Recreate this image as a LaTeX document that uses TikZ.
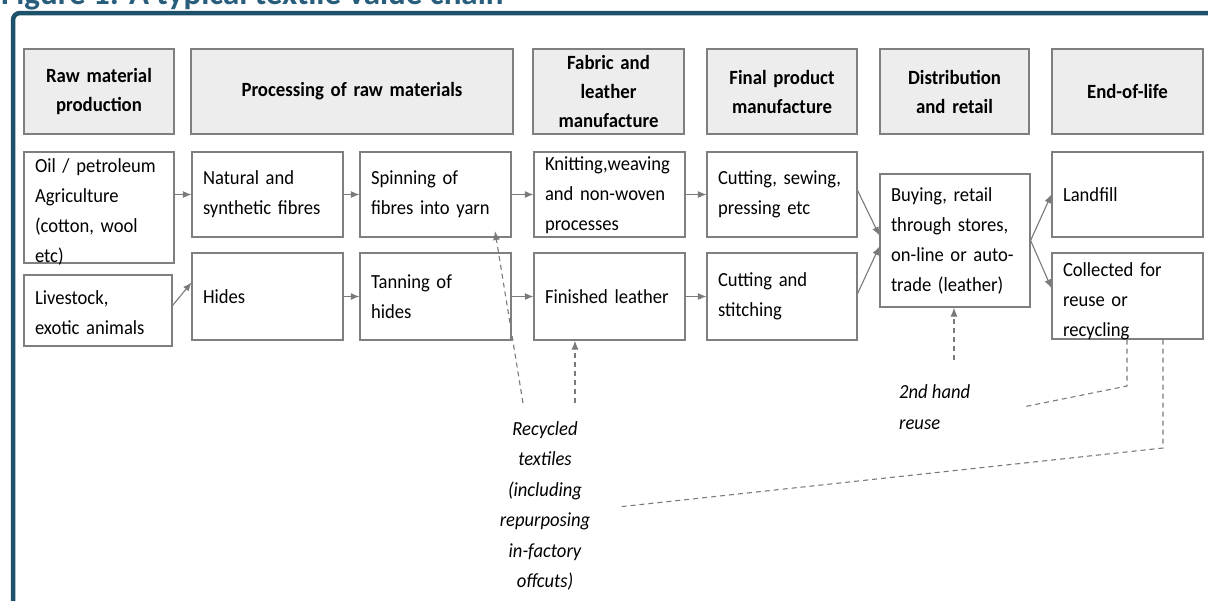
\documentclass[tikz,border=0pt]{standalone}
\usepackage{fontspec}
\setmainfont[FakeStretch=0.93]{Carlito}
\newfontfamily\ttlfont{Carlito}
\usetikzlibrary{arrows.meta,calc}
\definecolor{framec}{HTML}{1D5069}
\definecolor{ttlc}{HTML}{285E7C}
\definecolor{bordc}{HTML}{7F7F7F}
\definecolor{hdrfill}{HTML}{EDEDED}
\definecolor{connc}{HTML}{7A7A7A}
% style, name, x1, y1, x2, y2, text shift down, text
\newcommand\mkbox[8]{%
 \pgfmathsetmacro\mybw{#5-#3}%
 \pgfmathsetmacro\mybh{#6-#4}%
 \pgfmathsetmacro\mytw{#5-#3-22}%
 \pgfmathsetmacro\mycx{(#3+#5)/2}%
 \pgfmathsetmacro\mycy{(#4+#6)/2}%
 \node[#1, minimum width=\mybw pt, minimum height=\mybh pt] (#2) at (\mycx,\mycy) {};
 \node[#1 text, text width=\mytw pt, yshift=-#7pt] (#2t) at (#2.center) {#8};}
\begin{document}
\begin{tikzpicture}[x=1pt,y=-1pt,
  hdr/.style={draw=bordc, line width=1.2pt, fill=hdrfill, inner sep=0pt},
  hdr text/.style={inner sep=0pt, align=center, font=\bfseries\fontsize{20.2}{29}\selectfont},
  body/.style={draw=bordc, line width=1.2pt, fill=white, inner sep=0pt},
  body text/.style={inner sep=0pt, align=left, font=\fontsize{20}{30}\selectfont},
  lbl/.style={inner sep=0pt, font=\itshape\fontsize{20}{30.5}\selectfont},
  arr/.style={draw=connc, line width=1.1pt, -{Latex[length=8.5pt,width=7pt]}},
  dsh/.style={draw=connc, line width=1.1pt, dash pattern=on 5pt off 4pt},
  dsharr/.style={dsh, -{Latex[length=9pt,width=7pt]}}]
\useasboundingbox (0,0) rectangle (1208,600);
\clip (0,0) rectangle (1208,600);
\fill[white] (0,0) rectangle (1208,600);
% title and frame
\node[anchor=base west, inner sep=0pt, text=ttlc, font=\ttlfont\bfseries\fontsize{33}{33}\selectfont] (title) at (1,4.5) {Figure 1: A typical textile value chain};
\draw[framec, line width=4.5pt, rounded corners=7pt] (13,640) -- (13,13) -- (1240,13);
% headers
\mkbox{hdr}{h1}{24}{49}{174}{134}{0}{Raw material\\production}
\mkbox{hdr}{h2}{191}{49}{513}{134}{0}{Processing of raw materials}
\mkbox{hdr}{h3}{533}{49}{684}{134}{0}{Fabric and\\leather\\manufacture}
\mkbox{hdr}{h4}{707}{49}{857}{134}{0}{Final product\\manufacture}
\mkbox{hdr}{h5}{880}{49}{1029}{134}{0}{Distribution\\and retail}
\mkbox{hdr}{h6}{1052}{49}{1203}{134}{0}{End-of-life}
% body boxes
\mkbox{body}{a1}{24}{152}{174}{263}{4}{Oil / petroleum\\Agriculture\\(cotton, wool\\etc)}
\mkbox{body}{a2}{24}{275}{172}{346}{2}{Livestock,\\exotic animals}
\mkbox{body}{b1}{192}{152}{343}{237}{0}{Natural and\\synthetic fibres}
\mkbox{body}{b2}{192}{253}{343}{340}{0}{Hides}
\mkbox{body}{c1}{360}{152}{511}{237}{0}{Spinning of\\fibres into yarn}
\mkbox{body}{c2}{360}{253}{511}{340}{0}{Tanning of\\hides}
\mkbox{body}{d1}{534}{152}{685}{237}{1}{Knitting,weaving\\and non-woven\\processes}
\mkbox{body}{d2}{534}{253}{685}{340}{0}{Finished leather}
\mkbox{body}{e1}{707}{152}{857}{237}{0}{Cutting, sewing,\\pressing etc}
\mkbox{body}{e2}{707}{253}{857}{340}{0}{Cutting and\\stitching}
\mkbox{body}{f}{880}{174}{1030}{307}{0}{Buying, retail\\through stores,\\on-line or auto-\\trade (leather)}
\mkbox{body}{g1}{1052}{152}{1203}{237}{0}{Landfill}
\mkbox{body}{g2}{1052}{253}{1203}{339}{5}{Collected for\\reuse or\\recycling}
% labels
\node[lbl, align=center] (rt) at (545,506) {Recycled\\textiles\\(including\\repurposing\\in-factory\\offcuts)};
\node[lbl, align=left, anchor=west] (sh) at (899,407) {2nd hand\\reuse};
% solid arrows
\draw[arr] (a1.east |- b1.west) -- (b1.west);
\draw[arr] ([yshift=5pt]a2.east) -- ([yshift=14pt]b2.west);
\draw[arr] (b1.east) -- (c1.west);
\draw[arr] (b2.east) -- (c2.west);
\draw[arr] (c1.east) -- (d1.west);
\draw[arr] (c2.east) -- (d2.west);
\draw[arr] (d1.east) -- (e1.west);
\draw[arr] (d2.east) -- (e2.west);
\draw[arr] ([yshift=4pt]e1.east) -- ([yshift=5pt]f.west);
\draw[arr] ([yshift=3pt]e2.east) -- ([yshift=-6pt]f.west);
\draw[arr] (f.east) -- (g1.west);
\draw[arr] (f.east) -- ([yshift=8pt]g2.west);
% dashed connectors
\coordinate (r1) at (523,403);
\coordinate (r1t) at (495,231);
\draw[dsharr] (r1) -- (r1t);
\coordinate (r2) at (575,403);
\draw[dsharr] (r2) -- (d2.south -| r2);
\coordinate (s1) at (954,360);
\draw[dsharr] (s1) -- (f.south -| s1);
\coordinate (k1) at (1127,386);
\coordinate (k2) at (1023,407);
\draw[dsh] (g2.south -| k1) -- (k1) -- (k2);
\coordinate (m1) at (1163,448);
\coordinate (m2) at (618,507);
\draw[dsh] (g2.south -| m1) -- (m1) -- (m2);
\end{tikzpicture}
\end{document}
